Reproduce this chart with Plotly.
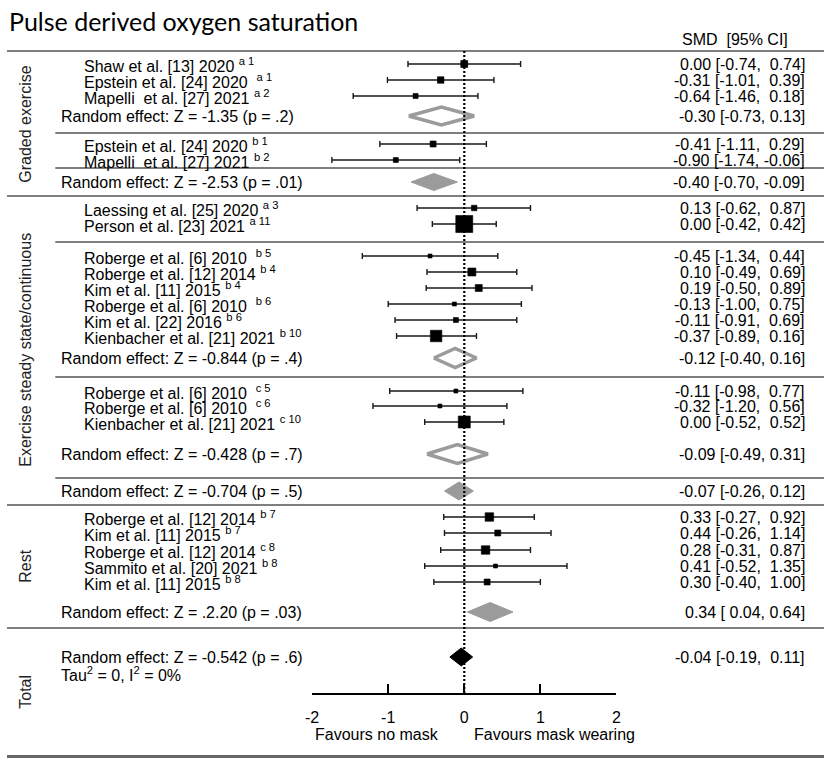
import plotly.graph_objects as go

W, H = 829, 758
ZERO_PX, UNIT_PX = 464.0, 77.2          # pixel of SMD = 0, pixels per SMD unit
FONT = "Liberation Sans, Arial, sans-serif"

# ---------------- individual studies ----------------
study_labels = [
    "Shaw et al. [13] 2020 <sup>a 1</sup>",
    "Epstein et al. [24] 2020  <sup>a 1</sup>",
    "Mapelli  et al. [27] 2021 <sup>a 2</sup>",
    "Epstein et al. [24] 2020 <sup>b 1</sup>",
    "Mapelli  et al. [27] 2021 <sup>b 2</sup>",
    "Laessing et al. [25] 2020 <sup>a 3</sup>",
    "Person et al. [23] 2021 <sup>a 11</sup>",
    "Roberge et al. [6] 2010  <sup>b 5</sup>",
    "Roberge et al. [12] 2014 <sup>b 4</sup>",
    "Kim et al. [11] 2015 <sup>b 4</sup>",
    "Roberge et al. [6] 2010  <sup>b 6</sup>",
    "Kim et al. [22] 2016 <sup>b 6</sup>",
    "Kienbacher et al. [21] 2021 <sup>b 10</sup>",
    "Roberge et al. [6] 2010  <sup>c 5</sup>",
    "Roberge et al. [6] 2010  <sup>c 6</sup>",
    "Kienbacher et al. [21] 2021 <sup>c 10</sup>",
    "Roberge et al. [12] 2014 <sup>b 7</sup>",
    "Kim et al. [11] 2015 <sup>b 7</sup>",
    "Roberge et al. [12] 2014 <sup>c 8</sup>",
    "Sammito et al. [20] 2021 <sup>b 8</sup>",
    "Kim et al. [11] 2015 <sup>b 8</sup>",
]
study_smd = [0.00, -0.31, -0.64, -0.41, -0.90, 0.13, 0.00, -0.45, 0.10, 0.19,
             -0.13, -0.11, -0.37, -0.11, -0.32, 0.00, 0.33, 0.44, 0.28, 0.41, 0.30]
study_lo = [-0.74, -1.01, -1.46, -1.11, -1.74, -0.62, -0.42, -1.34, -0.49, -0.50,
            -1.00, -0.91, -0.89, -0.98, -1.20, -0.52, -0.27, -0.26, -0.31, -0.52, -0.40]
study_hi = [0.74, 0.39, 0.18, 0.29, -0.06, 0.87, 0.42, 0.44, 0.69, 0.89,
            0.75, 0.69, 0.16, 0.77, 0.56, 0.52, 0.92, 1.14, 0.87, 1.35, 1.00]

# ---------------- pooled estimates ----------------
pooled_labels = [
    "Random effect: Z = -1.35 (p = .2)",
    "Random effect: Z = -2.53 (p = .01)",
    "Random effect: Z = -0.844 (p = .4)",
    "Random effect: Z = -0.428 (p = .7)",
    "Random effect: Z = -0.704 (p = .5)",
    "Random effect: Z = .2.20 (p = .03)",
    "Random effect: Z = -0.542 (p = .6)",
]
pooled_smd = [-0.30, -0.40, -0.12, -0.09, -0.07, 0.34, -0.04]
pooled_lo = [-0.73, -0.70, -0.40, -0.49, -0.26, 0.04, -0.19]
pooled_hi = [0.13, -0.09, 0.16, 0.31, 0.12, 0.64, 0.11]

group_names = ["Graded exercise", "Exercise steady state/continuous", "Rest", "Total"]
tick_values = [-2, -1, 0, 1, 2]

# ---------------- layout of rows (pixels from top) ----------------
study_row = [64, 80, 96, 144, 160, 208, 224, 256, 272, 288, 304, 320, 336,
             391, 406, 422, 517, 533, 550, 566, 582]
box_px = [7, 6.5, 5, 6, 5, 5.5, 17, 4, 8, 7, 4, 5, 11.5, 4, 4, 12, 8.5, 6, 8.5, 4, 6]
pooled_row = [116, 182, 358, 454, 491, 612, 657]
pooled_half = [9, 8.5, 9.5, 9.5, 9, 9.5, 9]
pooled_kind = ["hollow", "filled", "hollow", "hollow", "filled", "filled", "total"]
group_center = [124, 350, 566, 692]

full_rules = [51, 196, 505, 628]
inner_rules = [133, 168, 242, 377, 478]
AXIS_Y = 694
GRAY = "#9b9b9b"


def px_x(p):
    return p / W


def fmt_study(m, lo, hi):
    return f"{m:.2f} [{lo:.2f}, {hi:5.2f}]".replace(" ", "\u00a0")


def fmt_pooled(m, lo, hi):
    return f"{m:.2f} [{lo:5.2f}, {hi:.2f}]".replace(" ", "\u00a0")


fig = go.Figure()

# pooled diamonds
for m, lo, hi, y, h, kind in zip(pooled_smd, pooled_lo, pooled_hi,
                                  pooled_row, pooled_half, pooled_kind):
    xs = [lo, m, hi, m, lo]
    ys = [y, y - h, y, y + h, y]
    if kind == "hollow":
        fill, line, lw = "white", GRAY, 3.5
    elif kind == "filled":
        fill, line, lw = GRAY, GRAY, 1
    else:
        fill, line, lw = "black", "black", 1
    fig.add_trace(go.Scatter(
        x=xs, y=ys, mode="lines", fill="toself", fillcolor=fill,
        line=dict(color=line, width=lw), hoverinfo="skip", showlegend=False))

# study estimates with confidence intervals
fig.add_trace(go.Scatter(
    x=study_smd, y=study_row, mode="markers",
    marker=dict(symbol="square", size=box_px, color="black",
                line=dict(width=0.6, color="black"), opacity=1),
    error_x=dict(type="data", symmetric=False,
                 array=[h - m for m, h in zip(study_smd, study_hi)],
                 arrayminus=[m - l for m, l in zip(study_smd, study_lo)],
                 color="#1a1a1a", thickness=1.4, width=3),
    hoverinfo="skip", showlegend=False))

# carrier for the SMD scale axis
fig.add_trace(go.Scatter(x=[None], y=[None], xaxis="x2", yaxis="y",
                         showlegend=False, hoverinfo="skip"))

shapes = []
for y in full_rules:
    shapes.append(dict(type="line", xref="paper", yref="y", x0=0, x1=1, y0=y, y1=y,
                       line=dict(color="#555555", width=1.6)))
shapes.append(dict(type="line", xref="paper", yref="y", x0=0, x1=1, y0=756.5, y1=756.5,
                   line=dict(color="#666666", width=3)))
for y in inner_rules:
    shapes.append(dict(type="line", xref="paper", yref="y", x0=px_x(49), x1=1, y0=y, y1=y,
                       line=dict(color="#555555", width=1.6)))
# line of no effect
shapes.append(dict(type="line", xref="x", yref="y", x0=0, x1=0, y0=51, y1=AXIS_Y,
                   line=dict(color="black", width=2.2, dash="2px,2px"), layer="above"))

ann = []
base_font = dict(family=FONT, size=16, color="black")

ann.append(dict(text="Pulse derived oxygen saturation", xref="paper", yref="y",
                x=0, y=21, xanchor="left", yanchor="middle", showarrow=False,
                font=dict(family="Lato, Carlito, sans-serif", size=25, color="black")))
ann.append(dict(text="SMD\u00a0\u00a0[95% CI]", xref="paper", yref="y", x=px_x(794), y=39,
                xanchor="right", yanchor="middle", showarrow=False, font=base_font))

for lab, m, lo, hi, y in zip(study_labels, study_smd, study_lo, study_hi, study_row):
    ann.append(dict(text=lab.replace("  ", "\u00a0 "), xref="paper", yref="y", x=px_x(76),
                    y=y + 1, xanchor="left", yanchor="middle", showarrow=False,
                    font=base_font))
    ann.append(dict(text=fmt_study(m, lo, hi), xref="paper", yref="y", x=px_x(812), y=y,
                    xanchor="right", yanchor="middle", showarrow=False, font=base_font))

for i, (lab, m, lo, hi, y) in enumerate(zip(pooled_labels, pooled_smd, pooled_lo,
                                             pooled_hi, pooled_row)):
    ann.append(dict(text=lab, xref="paper", yref="y", x=px_x(53), y=y,
                    xanchor="left", yanchor="middle", showarrow=False, font=base_font))
    txt = fmt_study(m, lo, hi) if pooled_kind[i] == "total" else fmt_pooled(m, lo, hi)
    ann.append(dict(text=txt, xref="paper", yref="y", x=px_x(812), y=y,
                    xanchor="right", yanchor="middle", showarrow=False, font=base_font))

ann.append(dict(text="Tau<sup>2</sup> = 0, I<sup>2</sup> = 0%", xref="paper", yref="y",
                x=px_x(53), y=674, xanchor="left", yanchor="middle", showarrow=False,
                font=base_font))

for name, yc in zip(group_names, group_center):
    ann.append(dict(text=name, xref="paper", yref="y", x=px_x(18), y=yc, textangle=-90,
                    xanchor="center", yanchor="middle", showarrow=False,
                    font=dict(family=FONT, size=16, color="#222222")))

ann.append(dict(text="Favours no mask", xref="x", yref="y", x=-0.31, y=734,
                xanchor="right", yanchor="middle", showarrow=False, font=base_font))
ann.append(dict(text="Favours mask wearing", xref="x", yref="y", x=0.10, y=734,
                xanchor="left", yanchor="middle", showarrow=False, font=base_font))

left_v = (0 - ZERO_PX) / UNIT_PX
right_v = (W - ZERO_PX) / UNIT_PX

fig.update_layout(
    width=W, height=H, margin=dict(l=0, r=0, t=0, b=0),
    paper_bgcolor="white", plot_bgcolor="rgba(0,0,0,0)",
    showlegend=False, shapes=shapes, annotations=ann,
    xaxis=dict(domain=[0, 1], range=[left_v, right_v], visible=False, fixedrange=True),
    yaxis=dict(domain=[0, 1], range=[H, 0], visible=False, fixedrange=True),
    xaxis2=dict(domain=[(ZERO_PX - 2 * UNIT_PX) / W, (ZERO_PX + 2 * UNIT_PX) / W],
                range=[-2, 2], anchor="free", position=1 - AXIS_Y / H,
                tickvals=tick_values, ticktext=[str(v) for v in tick_values],
                ticks="inside", ticklen=9, tickwidth=1.6, tickcolor="black",
                showline=True, linecolor="black", linewidth=1.8,
                showgrid=False, zeroline=False, ticklabelstandoff=9,
                tickfont=dict(family=FONT, size=16, color="black"), fixedrange=True),
)

fig.write_html("out.html")
